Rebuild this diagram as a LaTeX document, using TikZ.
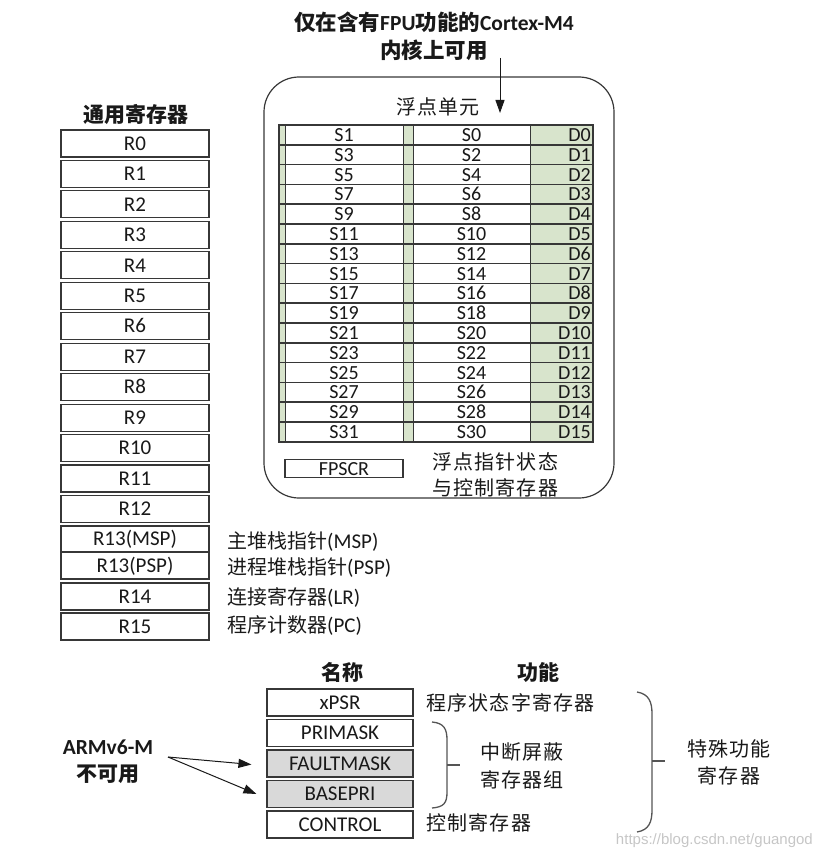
\documentclass[tikz,border=0pt]{standalone}
\usepackage{fontspec}
\setmainfont{Carlito}
\newfontfamily\cjkf{Noto Sans CJK SC}
\newfontfamily\cjksf[LetterSpace=6]{Noto Sans CJK SC}
\newfontfamily\wmfont{Liberation Sans}
\usetikzlibrary{arrows.meta}
\definecolor{bd}{RGB}{55,55,55}
\definecolor{grn}{RGB}{216,228,204}
\definecolor{gry}{RGB}{217,217,217}
\definecolor{tx}{RGB}{25,25,25}
\definecolor{brk}{RGB}{85,85,85}
\newcommand\lsz{\fontsize{21}{25}\selectfont}
\newcommand\tsz{\fontsize{20}{24}\selectfont}
\newcommand\cj[1]{{\fontsize{20}{24}\selectfont\cjkf #1}}
\newcommand\cjs[1]{{\fontsize{20}{24}\selectfont\cjksf #1}}
\begin{document}
\begin{tikzpicture}[x=1pt,y=-1pt,
  reg/.style={draw=bd, line width=1.1pt, fill=white, minimum width=148pt, minimum height=27pt, inner sep=0pt, text height=13.5pt, text depth=0pt, font=\lsz, text=tx},
  sreg/.style={reg, minimum width=146pt},
  cell/.style={inner sep=0pt, text height=13pt, text depth=0pt, font=\tsz, text=tx},
  lab/.style={anchor=base west, inner sep=0pt, font=\lsz, text=tx},
  ctr/.style={anchor=base, inner sep=0pt, font=\lsz, text=tx},
  arr/.style={line width=1pt, draw=tx, -{Triangle[length=13pt,width=9pt]}},
  brc/.style={line width=1.3pt, draw=brk}]
\useasboundingbox (0,0) rectangle (823,856);

% top title
\node[ctr, font=\fontsize{21.5}{25}\selectfont\bfseries] (t1) at (434,31) {{\cjkf 仅在含有}FPU{\cjkf 功能的}Cortex-M4};
\node[ctr, font=\fontsize{21.5}{25}\selectfont\bfseries] (t2) at (434,59) {{\cjkf 内核上可用}};

% FPU box
\node[draw=bd, line width=1.2pt, rounded corners=35pt, minimum width=350pt, minimum height=421pt, inner sep=0pt] (fpu) at (439,287.5) {};
\node[ctr] (fputitle) at (438,114) {\cjs{浮点单元}};
\coordinate (fpuarrS) at (500,58);
\coordinate (fpuarrE) at (500,113);
\draw[arr] (fpuarrS) -- (fpuarrE);

% FPU register table
\foreach \i in {0,...,15}{
  \pgfmathsetmacro\tp{125+19.8*\i}
  \pgfmathsetmacro\bt{\tp+19.8}
  \pgfmathsetmacro\cy{\tp+9.9}
  \pgfmathtruncatemacro\od{2*\i+1}
  \pgfmathtruncatemacro\ev{2*\i}
  \fill[grn] (279,\tp) rectangle (593,\bt);
  \fill[white] (285,\tp) rectangle (403,\bt);
  \fill[white] (413,\tp) rectangle (530,\bt);
  \draw[bd, line width=0.9pt] (285,\tp) -- (285,\bt) (403,\tp) -- (403,\bt) (413,\tp) -- (413,\bt) (530,\tp) -- (530,\bt);
  \draw[bd, line width=1.6pt] (279,\tp) rectangle (593,\bt);
  \node[cell] (sa\i) at (344,\cy) {S\od};
  \node[cell] (sb\i) at (471.5,\cy) {S\ev};
  \node[cell, anchor=east] (d\i) at (591,\cy) {D\i};
}

% FPSCR
\node[draw=bd, line width=1.1pt, minimum width=118pt, minimum height=18pt, inner sep=0pt, text height=13pt, text depth=0pt, font=\tsz, text=tx] (fpscr) at (344,468.5) {FPSCR};
\node[ctr] (fpscr1) at (495,469) {\cjs{浮点指针状态}};
\node[ctr] (fpscr2) at (495,495) {\cjs{与控制寄存器}};

% general registers
\node[ctr, font=\lsz\bfseries] (gtitle) at (136,122) {{\cjkf 通用寄存器}};
\foreach \i in {0,...,12}{
  \node[reg] (r\i) at (135,{143.5+30.45*\i}) {R\i};
}
\node[reg, minimum height=26pt] (rmsp) at (135,539) {R13(MSP)};
\node[reg] (rpsp) at (135,565.5) {R13(PSP)};
\node[reg] (r14) at (135,596.5) {R14};
\node[reg] (r15) at (135,626.5) {R15};
\node[lab] (lmsp) at (227,548) {\cj{主堆栈指针}(MSP)};
\node[lab] (lpsp) at (227,574) {\cj{进程堆栈指针}(PSP)};
\node[lab] (llr) at (227,604) {\cj{连接寄存器}(LR)};
\node[lab] (lpc) at (227,632) {\cj{程序计数器}(PC)};

% special registers
\node[ctr, font=\lsz\bfseries] (hname) at (342,680) {{\cjkf 名称}};
\node[ctr, font=\lsz\bfseries] (hfunc) at (538,680) {{\cjkf 功能}};
\node[sreg] (xpsr) at (340,702.5) {xPSR};
\node[sreg] (prim) at (340,733) {PRIMASK};
\node[sreg, fill=gry] (fm) at (340,763.5) {FAULTMASK};
\node[sreg, fill=gry] (bp) at (340,794) {BASEPRI};
\node[sreg] (ctl) at (340,824.5) {CONTROL};
\node[lab] (lxpsr) at (426,710) {\cjs{程序状态字寄存器}};
\node[lab] (lctl) at (426,830) {\cjs{控制寄存器}};

% small brace
\draw[brc] (432,722) .. controls (444,723) and (447,729) .. (447,740) -- (447,792) .. controls (447,803) and (444,807) .. (432,808);
\draw[brc] (447,765) -- (460,765);
\node[ctr] (lint1) at (522,759) {\cjs{中断屏蔽}};
\node[ctr] (lint2) at (522,787) {\cjs{寄存器组}};

% big brace
\draw[brc] (637,692) .. controls (649,694) and (652,702) .. (652,714) -- (652,810) .. controls (652,822) and (649,830) .. (637,832);
\draw[brc] (652,761) -- (665,761);
\node[ctr] (lsp1) at (729,756) {\cjs{特殊功能}};
\node[ctr] (lsp2) at (729,783) {\cjs{寄存器}};

% ARMv6-M
\node[ctr, font=\fontsize{21.5}{25}\selectfont\bfseries] (armv) at (108,754) {ARMv6-M};
\node[ctr, font=\lsz\bfseries] (armn) at (108,781) {{\cjkf 不可用}};
\coordinate (armsrc) at (168,757);
\draw[arr] (armsrc) -- ([xshift=-15pt,yshift=-1pt]fm.west);
\draw[arr] (armsrc) -- ([xshift=-10pt]bp.west);

% watermark
\node[anchor=base east, inner sep=0pt, font=\wmfont\fontsize{15}{18}\selectfont, text=gray!45] (wm) at (813,844) {https://blog.csdn.net/guangod};
\end{tikzpicture}
\end{document}
